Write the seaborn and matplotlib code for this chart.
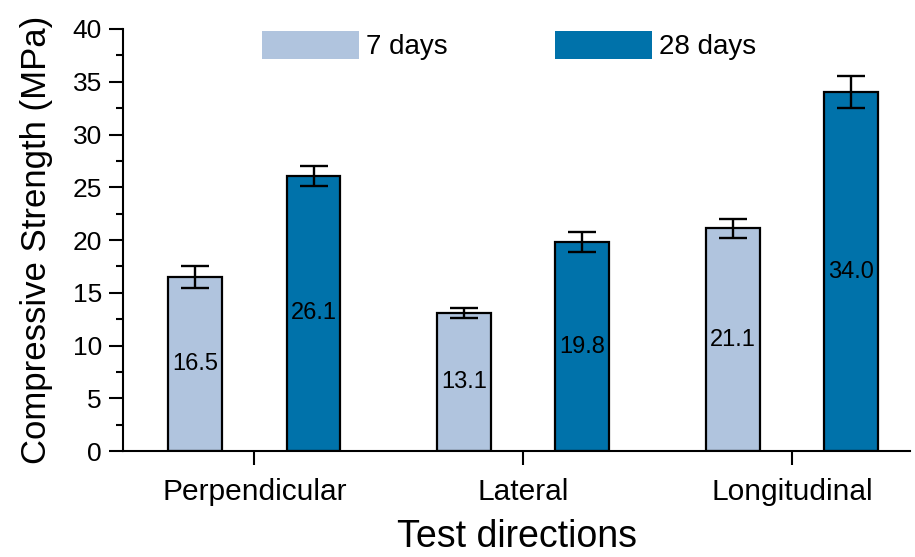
import numpy as np
import pandas as pd
import matplotlib
matplotlib.use("Agg")
import matplotlib.pyplot as plt
from matplotlib.ticker import MultipleLocator
import seaborn as sns

# Compressive strength by test direction and curing age
directions = ["Perpendicular", "Lateral", "Longitudinal"]
ages = ["7 days", "28 days"]
strength_7d = [16.5, 13.1, 21.1]
strength_28d = [26.1, 19.8, 34.0]
err_7d = [1.0, 0.45, 0.9]
err_28d = [0.95, 0.95, 1.5]

colors = ["#B0C4DE", "#0072AA"]

df = pd.DataFrame({
    "direction": directions * 2,
    "age": [ages[0]] * 3 + [ages[1]] * 3,
    "strength": strength_7d + strength_28d,
    "err": err_7d + err_28d,
})

sns.set_theme(style="ticks")
plt.rcParams["font.family"] = ["Liberation Sans", "DejaVu Sans"]
plt.rcParams["text.color"] = "black"
plt.rcParams["axes.labelcolor"] = "black"

fig = plt.figure(figsize=(9.15, 5.57), dpi=100)
ax = fig.add_axes([0.134, 0.19, 0.861, 0.758])

sns.barplot(data=df, x="direction", y="strength", hue="age",
            order=directions, hue_order=ages, palette=colors,
            saturation=1, width=0.88, gap=0.545, errorbar=None,
            edgecolor="black", linewidth=1.6, ax=ax)

# error bars and value labels at the bar centres
bars = ax.patches[:6]
for patch, (_, row) in zip(bars, df.iterrows()):
    cx = patch.get_x() + patch.get_width() / 2
    h = patch.get_height()
    ax.errorbar(cx, h, yerr=row["err"], fmt="none", ecolor="black",
                elinewidth=1.7, capsize=10, capthick=1.7, zorder=5)
    ax.text(cx, h / 2, f"{row['strength']:.1f}", ha="center", va="center",
            fontsize=17, color="black", zorder=6)

ax.set_ylim(0, 40)
ax.set_xlim(-0.49, 2.44)
ax.yaxis.set_major_locator(MultipleLocator(5))
ax.yaxis.set_minor_locator(MultipleLocator(2.5))

ax.set_xlabel("Test directions", fontsize=27, labelpad=10)
ax.set_ylabel("Compressive Strength (MPa)", fontsize=25, labelpad=14)
ax.tick_params(axis="both", which="major", width=1.5,
               length=10, color="black", labelcolor="black")
ax.tick_params(axis="y", which="major", labelsize=19, pad=5)
ax.tick_params(axis="x", which="major", labelsize=21.5, pad=9)
ax.tick_params(axis="y", which="minor", width=1.5, length=5, color="black")

for side in ["top", "right"]:
    ax.spines[side].set_visible(False)
for side in ["left", "bottom"]:
    ax.spines[side].set_linewidth(1.5)
    ax.spines[side].set_color("black")

handles, labels = ax.get_legend_handles_labels()
for hnd in handles:
    hnd.set_edgecolor("none")
ax.legend(handles, labels, ncol=2, frameon=False, fontsize=20,
          loc="upper left", bbox_to_anchor=(0.145, 1.055),
          handlelength=3.5, handleheight=1.2, handletextpad=0.25,
          columnspacing=3.85)

fig.savefig("out.png", dpi=100)
